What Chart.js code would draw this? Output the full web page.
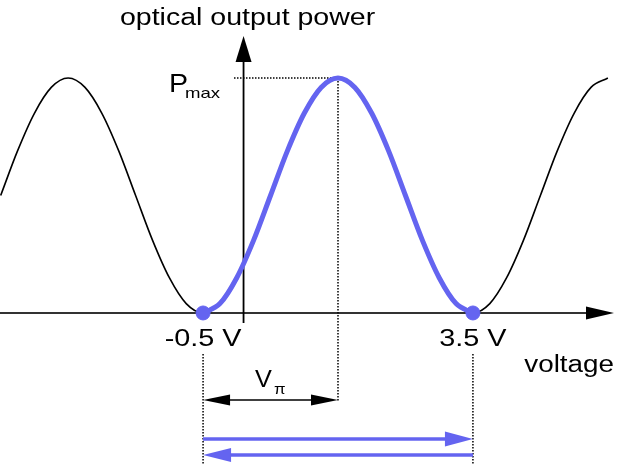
<!DOCTYPE html>
<html lang="en">
<head>
    <meta charset="UTF-8">
    <title>Optical output power vs voltage</title>
    <script src="https://cdn.jsdelivr.net/npm/chart.js"></script>
    <style>
        html, body { margin: 0; padding: 0; background: #fff; }
        .chart-container { position: relative; width: 620px; height: 465px; }
    </style>
</head>
<body>

<div class="chart-container">
    <canvas id="mzChart" width="620" height="465"></canvas>
</div>

<script>
// transfer curve (voltage in V, power normalised to Pmax)
const fullVoltage = [-3.5, -3.25, -3.0, -2.75, -2.5, -2.25, -2.0, -1.75, -1.5, -1.25, -1.0, -0.75,
    -0.5, -0.25, 0, 0.25, 0.5, 0.75, 1.0, 1.25, 1.5, 1.75, 2.0, 2.25, 2.5, 2.75, 3.0, 3.25,
    3.5, 3.75, 4.0, 4.25, 4.5, 4.75, 5.0, 5.25, 5.5];
const fullPower = [0.5, 0.69, 0.85, 0.96, 1, 0.96, 0.85, 0.69, 0.5, 0.31, 0.15, 0.04,
    0, 0.04, 0.15, 0.31, 0.5, 0.69, 0.85, 0.96, 1, 0.96, 0.85, 0.69, 0.5, 0.31, 0.15, 0.04,
    0, 0.04, 0.15, 0.31, 0.5, 0.69, 0.85, 0.96, 1];

// highlighted swing between the two minima
const swingVoltage = [-0.5, -0.25, 0, 0.25, 0.5, 0.75, 1.0, 1.25, 1.5, 1.75, 2.0, 2.25, 2.5, 2.75, 3.0, 3.25, 3.5];
const swingPower = [0, 0.04, 0.15, 0.31, 0.5, 0.69, 0.85, 0.96, 1, 0.96, 0.85, 0.69, 0.5, 0.31, 0.15, 0.04, 0];

const endVoltage = [-0.5, 3.5];
const endPower = [0, 0];
const tickLabels = ['-0.5 V', '3.5 V'];

const peakVoltage = 1.5;
const peakPower = 1;
const yAxisAt = 0.1;

const blue = '#6464f0';
const font = 'Liberation Sans, Arial, sans-serif';

function toPoints(xs, ys) {
    return xs.map((x, i) => ({ x: x, y: ys[i] }));
}

function text(ctx, str, x, y, size, align, sx) {
    ctx.save();
    ctx.translate(x, y);
    ctx.scale(sx, 1);
    ctx.font = size + 'px ' + font;
    ctx.textAlign = align;
    ctx.textBaseline = 'alphabetic';
    ctx.fillStyle = '#000';
    ctx.fillText(str, 0, 0);
    ctx.restore();
}

function arrowHead(ctx, tipX, tipY, dirX, dirY, len, half, color) {
    // dir is a unit vector pointing towards the tip
    const bx = tipX - dirX * len, by = tipY - dirY * len;
    ctx.beginPath();
    ctx.moveTo(tipX, tipY);
    ctx.lineTo(bx - dirY * half, by + dirX * half);
    ctx.lineTo(bx + dirY * half, by - dirX * half);
    ctx.closePath();
    ctx.fillStyle = color;
    ctx.fill();
}

function line(ctx, x1, y1, x2, y2, color, width, dash) {
    ctx.save();
    ctx.beginPath();
    ctx.strokeStyle = color;
    ctx.lineWidth = width;
    ctx.setLineDash(dash || []);
    ctx.moveTo(x1, y1);
    ctx.lineTo(x2, y2);
    ctx.stroke();
    ctx.restore();
}

const axesPlugin = {
    id: 'axesPlugin',
    beforeDatasetsDraw(chart) {
        const ctx = chart.ctx;
        const x = chart.scales.x, y = chart.scales.y;
        const y0 = y.getPixelForValue(0);
        const xa = x.getPixelForValue(yAxisAt);

        // horizontal (voltage) axis
        line(ctx, 0, y0, 590, y0, '#333', 2);
        arrowHead(ctx, 614, y0, 1, 0, 28, 6.5, '#000');

        // vertical (power) axis
        line(ctx, xa, y0 + 10, xa, 55, '#000', 1.8);
        arrowHead(ctx, xa, 36, 0, -1, 26, 8, '#000');

        // dotted guides to the maximum
        const px = x.getPixelForValue(peakVoltage);
        const py = y.getPixelForValue(peakPower);
        line(ctx, 234, py, px, py, '#000', 1.5, [1.5, 1.5]);
        line(ctx, px, py, px, 402, '#000', 1.5, [1.5, 1.5]);
    },
    afterDatasetsDraw(chart) {
        const ctx = chart.ctx;
        const x = chart.scales.x, y = chart.scales.y;
        const y0 = y.getPixelForValue(0);
        const xa = x.getPixelForValue(yAxisAt);
        const xl = x.getPixelForValue(endVoltage[0]);
        const xr = x.getPixelForValue(endVoltage[1]);
        const px = x.getPixelForValue(peakVoltage);

        text(ctx, 'optical output power', xa + 4, 25, 23, 'center', 1.24);
        text(ctx, 'P', 169, 92, 26, 'left', 1.1);
        text(ctx, 'max', 185, 98, 15, 'left', 1.24);
        text(ctx, 'voltage', 614, 372, 23, 'right', 1.21);

        tickLabels.forEach((lbl, i) => {
            text(ctx, lbl, x.getPixelForValue(endVoltage[i]), y0 + 33, 24, 'center', 1.2);
        });

        // dotted verticals below the tick labels
        line(ctx, xl, 354, xl, 465, '#000', 1.5, [1.5, 1.5]);
        line(ctx, xr, 354, xr, 465, '#000', 1.5, [1.5, 1.5]);

        // V pi span
        const yv = 400;
        line(ctx, xl + 20, yv, px - 20, yv, '#000', 1.5);
        arrowHead(ctx, xl, yv, -1, 0, 27, 5.5, '#000');
        arrowHead(ctx, px, yv, 1, 0, 27, 5.5, '#000');
        text(ctx, 'V', 255, 387, 23, 'left', 1.1);
        text(ctx, '\u03c0', 274, 394, 14, 'left', 1.2);

        // blue swing arrows
        line(ctx, xl, 439, xr - 20, 439, blue, 3.5);
        arrowHead(ctx, xr, 439, 1, 0, 28, 7.5, blue);
        line(ctx, xl + 20, 455, xr, 455, blue, 3.5);
        arrowHead(ctx, xl, 455, -1, 0, 28, 7, blue);
    }
};

new Chart(document.getElementById('mzChart').getContext('2d'), {
    type: 'scatter',
    data: {
        datasets: [{
            data: toPoints(endVoltage, endPower),
            backgroundColor: blue,
            borderColor: blue,
            pointRadius: 7,
            showLine: false,
            clip: false,
            order: 0
        }, {
            data: toPoints(swingVoltage, swingPower),
            borderColor: blue,
            borderWidth: 5,
            pointRadius: 0,
            showLine: true,
            cubicInterpolationMode: 'monotone',
            order: 1
        }, {
            data: toPoints(fullVoltage, fullPower),
            borderColor: '#000',
            borderWidth: 1.6,
            pointRadius: 0,
            showLine: true,
            cubicInterpolationMode: 'monotone',
            order: 2
        }]
    },
    options: {
        responsive: false,
        animation: false,
        layout: { padding: 0, autoPadding: false },
        plugins: {
            legend: { display: false },
            tooltip: { enabled: false }
        },
        scales: {
            x: { type: 'linear', min: -3.51, max: 5.68, display: false },
            y: { type: 'linear', min: -0.647, max: 1.332, display: false }
        }
    },
    plugins: [axesPlugin]
});
</script>
</body>
</html>
